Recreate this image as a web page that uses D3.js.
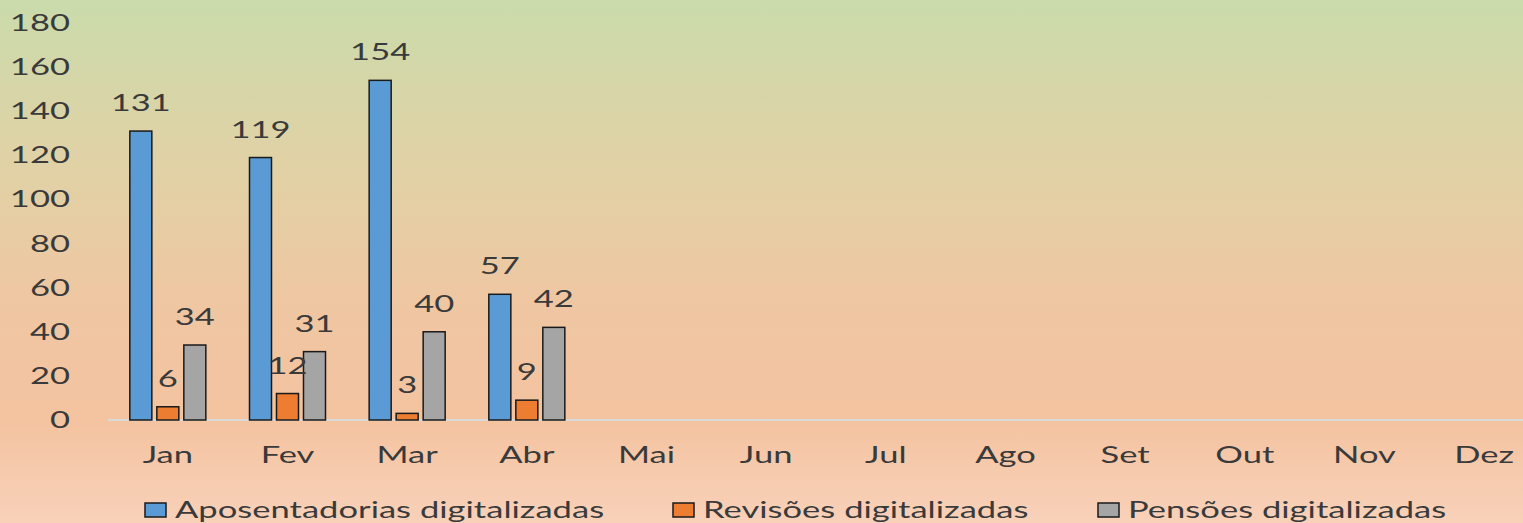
<!DOCTYPE html>
<html>
<head>
<meta charset="utf-8">
<script src="https://cdn.jsdelivr.net/npm/d3@7"></script>
<style>
  html, body { margin: 0; padding: 0; overflow: hidden; }
  svg { display: block; }
  text { font-family: Lato, "Open Sans", sans-serif; fill: #3a3a3a; }
</style>
</head>
<body>
<svg id="chart"></svg>
<script>
(function () {
var months = ['Jan', 'Fev', 'Mar', 'Abr', 'Mai', 'Jun', 'Jul', 'Ago', 'Set', 'Out', 'Nov', 'Dez']
var seriesNames = ['Aposentadorias digitalizadas', 'Revisões digitalizadas', 'Pensões digitalizadas']
var aposentadorias = [131, 119, 154, 57]
var revisoes = [6, 12, 3, 9]
var pensoes = [34, 31, 40, 42]
var yTicks = [0, 20, 40, 60, 80, 100, 120, 140, 160, 180]
var colors = ['#5b9bd5', '#ed7d31', '#a5a5a5']

var W = 1523, H = 523
var fontSize = 24, stretch = 1.44

var svg = d3.select('#chart').attr('width', W).attr('height', H)

// background gradient
var grad = svg.append('defs').append('linearGradient')
    .attr('id', 'bg').attr('x1', 0).attr('y1', 0).attr('x2', 0).attr('y2', 1)
grad.append('stop').attr('offset', '0%').attr('stop-color', '#cadbab')
grad.append('stop').attr('offset', '30%').attr('stop-color', '#e0d2a6')
grad.append('stop').attr('offset', '60%').attr('stop-color', '#f0c6a2')
grad.append('stop').attr('offset', '80%').attr('stop-color', '#f4c3a0')
grad.append('stop').attr('offset', '100%').attr('stop-color', '#f8d1b9')
svg.append('rect').attr('width', W).attr('height', H).attr('fill', 'url(#bg)')

var x = d3.scaleBand().domain(months).range([108, 1544])
var x1 = d3.scaleBand().domain(d3.range(seriesNames.length)).range([-38, 38]).paddingInner(0.185)
var y = d3.scaleLinear().domain([0, 180]).range([420, 23])

var label = (g, tx, ty, str, anchor) => g.append('text')
    .attr('transform', 'translate(' + tx + ',' + ty + ') scale(' + stretch + ',1)')
    .attr('text-anchor', anchor || 'middle')
    .style('font-size', fontSize + 'px')
    .text(str)

// y axis labels
var yAxis = svg.append('g')
yTicks.forEach(t => label(yAxis, 70, y(t) + 8, t, 'end'))

// baseline
svg.append('line')
    .attr('x1', 108).attr('x2', W)
    .attr('y1', y(0)).attr('y2', y(0))
    .attr('stroke', '#d9d9d9').attr('stroke-width', 2)

// x axis labels
var xAxis = svg.append('g')
months.forEach(m => label(xAxis, x(m) + x.bandwidth() / 2, 463, m))

// bars
var series = [aposentadorias, revisoes, pensoes]
var rows = []
series.forEach((vals, s) => vals.forEach((v, i) => rows.push({ s: s, m: months[i], v: v })))

var bars = svg.append('g')
bars.selectAll('rect')
    .data(rows)
    .enter()
    .append('rect')
    .attr('x', d => x(d.m) + x.bandwidth() / 2 + x1(d.s))
    .attr('width', x1.bandwidth())
    .attr('y', d => y(d.v))
    .attr('height', d => y(0) - y(d.v))
    .attr('fill', d => colors[d.s])
    .attr('stroke', '#1a1a1a')
    .attr('stroke-width', 1.5)

var vlabels = svg.append('g')
rows.forEach(d => label(vlabels, x(d.m) + x.bandwidth() / 2 + x1(d.s) + x1.bandwidth() / 2, y(d.v) - 20, d.v))

// legend
var legendX = [145, 673, 1098]
var legend = svg.append('g')
seriesNames.forEach((n, i) => {
    legend.append('rect')
        .attr('x', legendX[i]).attr('y', 503)
        .attr('width', 21).attr('height', 14)
        .attr('fill', colors[i])
        .attr('stroke', '#1a1a1a').attr('stroke-width', 1.5)
    label(legend, legendX[i] + 30, 518, n, 'start')
})
})();
</script>
</body>
</html>
